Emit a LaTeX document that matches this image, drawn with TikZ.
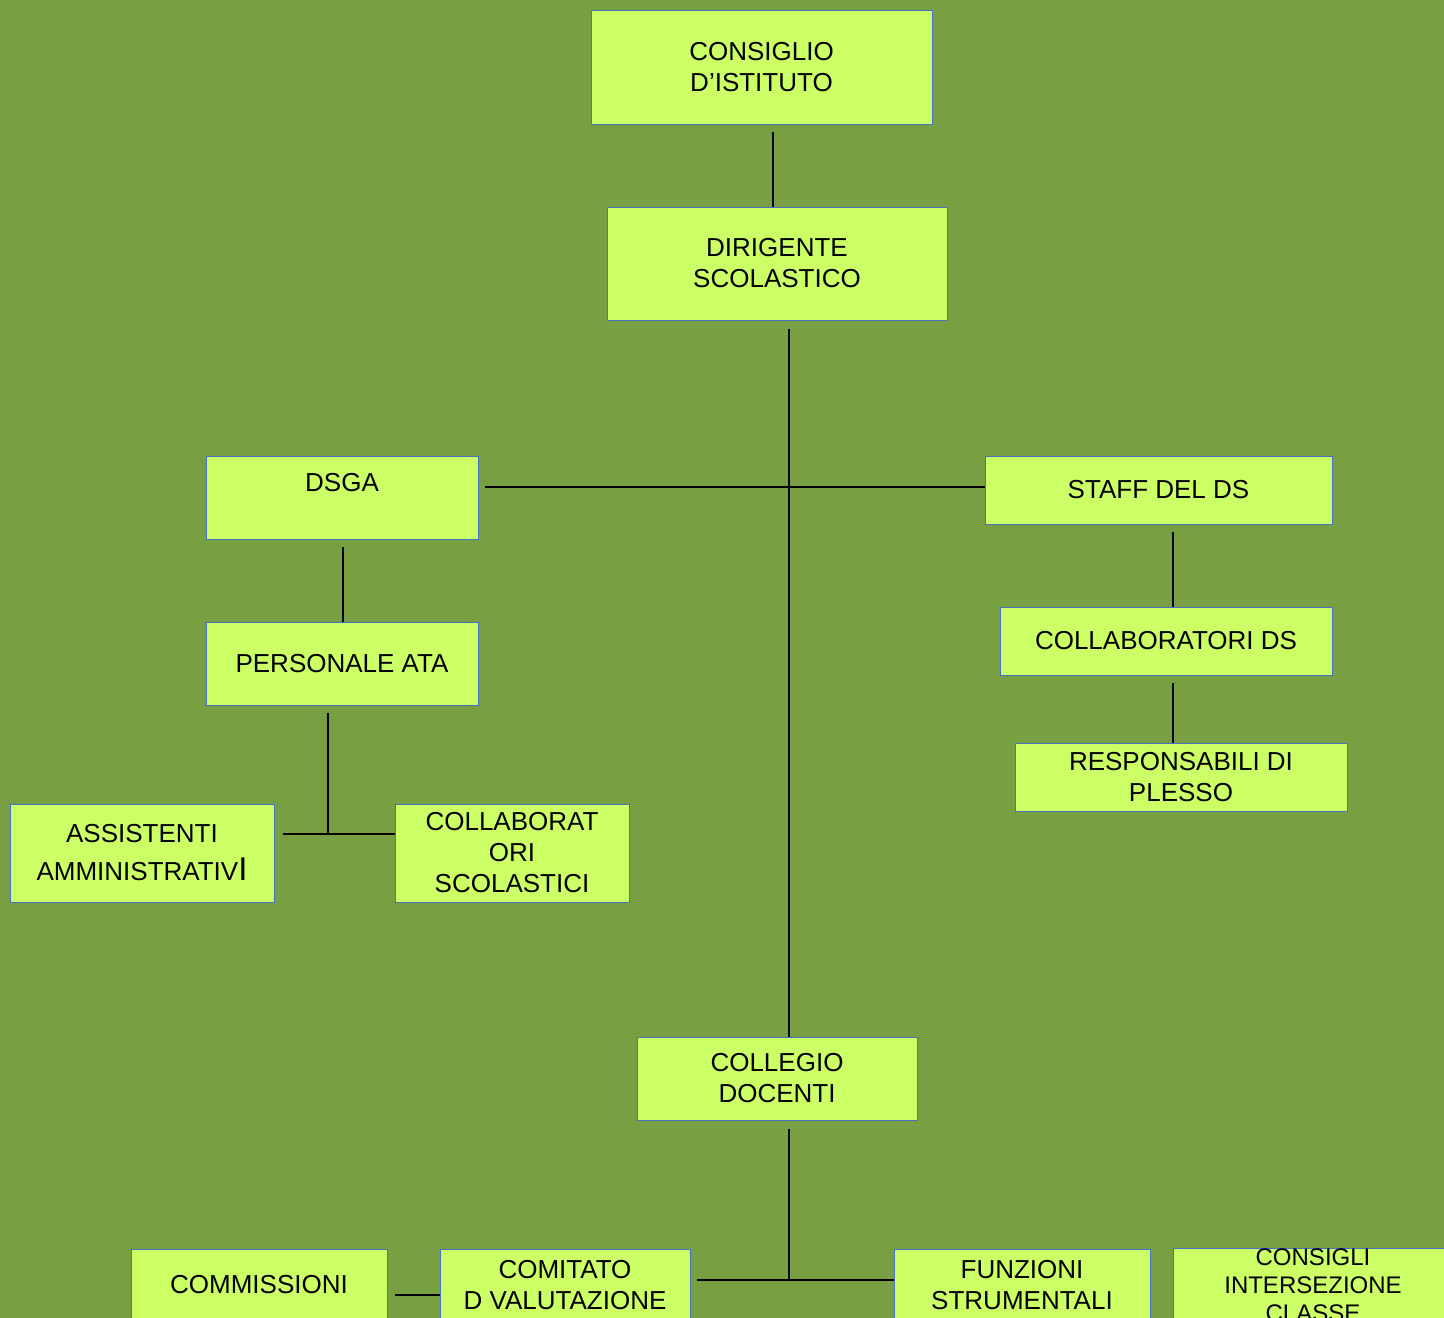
\documentclass[tikz,border=0pt]{standalone}
\usepackage{fontspec}
\setmainfont{Liberation Sans}
\definecolor{bgcol}{RGB}{120,160,66}
\definecolor{boxfill}{RGB}{204,255,102}
\definecolor{boxline}{RGB}{68,114,196}
\begin{document}
\begin{tikzpicture}[x=1pt,y=-1pt,
  orgbox/.style={draw=boxline,fill=boxfill,line width=0.9pt,inner sep=0pt,align=center,
    font=\fontsize{26}{31}\selectfont},
  conn/.style={draw=black,line width=1.2pt}]
\useasboundingbox (0,0) rectangle (1444,1318);
\fill[bgcol] (0,0) rectangle (1444,1318);
\clip (0,0) rectangle (1444,1318);
% boxes
\node[orgbox,minimum width=341pt,minimum height=114pt] (cons) at (761.5,67) {CONSIGLIO\\D’ISTITUTO};
\node[orgbox,minimum width=340pt,minimum height=113pt] (dir) at (777,263.5) {DIRIGENTE\\SCOLASTICO};
\node[orgbox,minimum width=272pt,minimum height=83pt] (dsga) at (342,497.5) {DSGA\\\mbox{}};
\node[orgbox,minimum width=272pt,minimum height=83pt] (ata) at (342,663.5) {PERSONALE ATA};
\node[orgbox,minimum width=264pt,minimum height=98pt,font=\fontsize{26}{38}\selectfont] (ass) at (142,853) {ASSISTENTI\\AMMINISTRATIV{\fontsize{33}{38}\selectfont I}};
\node[orgbox,minimum width=234pt,minimum height=98pt] (colsc) at (512,853) {COLLABORAT\\ORI\\SCOLASTICI};
\node[orgbox,minimum width=347pt,minimum height=68pt] (staff) at (1158.5,490) {STAFF DEL DS};
\node[orgbox,minimum width=332pt,minimum height=68pt] (colds) at (1166,641) {COLLABORATORI DS};
\node[orgbox,minimum width=332pt,minimum height=68pt] (resp) at (1181,777) {RESPONSABILI DI\\PLESSO};
\node[orgbox,minimum width=280pt,minimum height=83pt] (coll) at (777,1078.5) {COLLEGIO\\DOCENTI};
\node[orgbox,minimum width=256pt,minimum height=72pt] (comm) at (259,1285) {COMMISSIONI};
\node[orgbox,minimum width=250pt,minimum height=72pt] (comit) at (565,1285) {COMITATO\\D VALUTAZIONE};
\node[orgbox,minimum width=256pt,minimum height=72pt] (funz) at (1022,1285) {FUNZIONI\\STRUMENTALI};
\node[orgbox,minimum width=280pt,minimum height=72pt,font=\fontsize{24}{28}\selectfont] (consi) at (1313,1285) {CONSIGLI\\INTERSEZIONE\\CLASSE};
% connectors
\coordinate (c1) at (773,132);
\draw[conn] (c1) -- (c1 |- dir.north);
\coordinate (d1) at (789,329);
\draw[conn] (d1) -- (d1 |- coll.north);
\coordinate (h1) at (485,487);
\draw[conn] (h1) -- (h1 -| staff.west);
\coordinate (s1) at (343,547);
\draw[conn] (s1) -- (s1 |- ata.north);
\coordinate (a1) at (328,713);
\coordinate (a2) at (328,834);
\coordinate (a3) at (283,834);
\draw[conn] (a1) -- (a2);
\draw[conn] (a3) -- (a3 -| colsc.west);
\coordinate (st1) at (1173,532);
\draw[conn] (st1) -- (st1 |- colds.north);
\coordinate (cd1) at (1173,683);
\draw[conn] (cd1) -- (cd1 |- resp.north);
\coordinate (cl1) at (789,1129);
\coordinate (cl2) at (789,1280);
\draw[conn] (cl1) -- (cl2);
\coordinate (h2) at (697,1280);
\draw[conn] (h2) -- (h2 -| funz.west);
\coordinate (cm1) at (395,1295);
\draw[conn] (cm1) -- (cm1 -| comit.west);
\end{tikzpicture}
\end{document}
